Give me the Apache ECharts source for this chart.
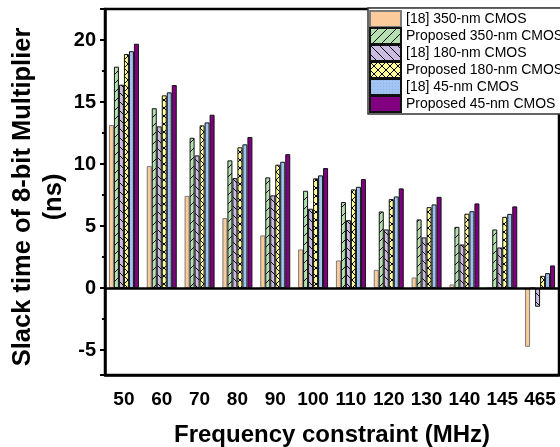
<!DOCTYPE html>
<html>
<head>
<meta charset="utf-8">
<script src="https://cdn.jsdelivr.net/npm/echarts@6/dist/echarts.min.js"></script>
<style>
  html, body { margin: 0; padding: 0; background: #fff; }
  #chart { width: 560px; height: 447px; }
</style>
</head>
<body>
<div id="chart"></div>
<script>
// Frequency constraints (MHz)
const categories = ['50', '60', '70', '80', '90', '100', '110', '120', '130', '140', '145', '465'];

// Slack time (ns) of the 8-bit multiplier
const ref350  = [13.15, 9.84, 7.44, 5.65, 4.25, 3.12, 2.23, 1.48, 0.86, 0.30, 0, -4.73];
const prop350 = [17.85, 14.50, 12.12, 10.30, 8.93, 7.85, 6.94, 6.18, 5.54, 4.94, 4.73, 0];
const ref180  = [16.40, 13.04, 10.70, 8.87, 7.48, 6.40, 5.48, 4.73, 4.09, 3.52, 3.28, -1.50];
const prop180 = [18.87, 15.54, 13.12, 11.35, 9.95, 8.85, 7.96, 7.18, 6.53, 6.00, 5.75, 0.99];
const ref45   = [19.10, 15.78, 13.36, 11.59, 10.19, 9.09, 8.17, 7.39, 6.75, 6.20, 5.99, 1.21];
const prop45  = [19.70, 16.37, 13.98, 12.18, 10.80, 9.68, 8.79, 8.04, 7.36, 6.83, 6.59, 1.83];

const seriesNames = [
  '[18] 350-nm CMOS',
  'Proposed 350-nm CMOS',
  '[18] 180-nm CMOS',
  'Proposed 180-nm CMOS',
  '[18] 45-nm CMOS',
  'Proposed 45-nm CMOS'
];

const FONT = "'Liberation Sans', Arial, sans-serif";

// Small repeating tiles used as hatched fills
function hatch(bg, kind, size) {
  const s = size || 9;
  const c = document.createElement('canvas');
  c.width = s; c.height = s;
  const g = c.getContext('2d');
  g.fillStyle = bg;
  g.fillRect(0, 0, s, s);
  g.strokeStyle = '#000';
  g.lineWidth = 1;
  g.beginPath();
  if (kind === 'fwd' || kind === 'cross') {
    for (const o of [-s, 0, s]) { g.moveTo(o, s); g.lineTo(o + s, 0); }
  }
  if (kind === 'back' || kind === 'cross') {
    for (const o of [-s, 0, s]) { g.moveTo(o, 0); g.lineTo(o + s, s); }
  }
  g.stroke();
  return { image: c, repeat: 'repeat' };
}

function dots(bg, dot) {
  const c = document.createElement('canvas');
  c.width = 3; c.height = 3;
  const g = c.getContext('2d');
  g.fillStyle = bg;
  g.fillRect(0, 0, 3, 3);
  g.fillStyle = dot;
  g.fillRect(1, 1, 1, 1);
  return { image: c, repeat: 'repeat' };
}

const fills = [
  '#FBCB9B',
  hatch('#B4E0B0', 'fwd'),
  hatch('#CBBBE0', 'back'),
  hatch('#FFFF99', 'cross', 8),
  dots('#A2C4F2', '#8DB2E6'),
  '#800080'
];
const borders = ['#7a7a7a', '#111', '#111', '#111', '#111', '#111'];
const values = [ref350, prop350, ref180, prop180, ref45, prop45];

const series = values.map((vals, i) => {
  const s = {
    name: seriesNames[i],
    type: 'bar',
    data: vals,
    barWidth: 5,
    barGap: '0%',
    itemStyle: { color: fills[i], borderColor: borders[i], borderWidth: 1 }
  };
  if (i === 0) {
    // zero reference line across the plot
    s.markLine = {
      silent: true,
      symbol: 'none',
      label: { show: false },
      lineStyle: { color: '#000', width: 2.5, type: 'solid' },
      data: [{ yAxis: 0 }]
    };
  }
  return s;
});

const chart = echarts.init(document.getElementById('chart'), null, { renderer: 'canvas' });
chart.setOption({
  animation: false,
  backgroundColor: '#fff',
  textStyle: { fontFamily: FONT },
  grid: {
    left: 105, right: 1, top: 9, bottom: 72,
    outerBoundsMode: 'none',
    containLabel: false,
    show: true, borderColor: '#000', borderWidth: 2.5
  },
  legend: {
    orient: 'vertical',
    left: 368, top: 8,
    icon: 'rect',
    itemWidth: 31, itemHeight: 16, itemGap: -1,
    padding: [2, 40, 1, 1],
    backgroundColor: '#fff',
    borderColor: '#333', borderWidth: 1.5,
    textStyle: { fontFamily: FONT, fontSize: 14, lineHeight: 16, color: '#000' },
    data: seriesNames
  },
  xAxis: [
    {
      type: 'category',
      position: 'bottom',
      data: categories,
      name: 'Frequency constraint (MHz)',
      nameLocation: 'middle',
      nameGap: 48,
      nameMoveOverlap: false,
      nameTextStyle: { fontFamily: FONT, fontSize: 24, fontWeight: 'bold', color: '#000' },
      axisLine: { onZero: false, lineStyle: { color: '#000', width: 2.5 } },
      axisTick: { alignWithLabel: true, length: 6, interval: 0, lineStyle: { color: '#000', width: 2.5 } },
      axisLabel: { interval: 0, margin: 15, fontFamily: FONT, fontSize: 19, fontWeight: 'bold', color: '#000' },
      splitLine: { show: false }
    },
    {
      type: 'category',
      position: 'bottom',
      data: categories,
      axisLine: { show: false, onZero: false },
      axisTick: { alignWithLabel: false, length: 3, interval: 0, lineStyle: { color: '#000', width: 2.5 } },
      axisLabel: { show: false },
      splitLine: { show: false }
    }
  ],
  yAxis: {
    type: 'value',
    min: -7,
    max: 22.5,
    splitNumber: 5,
    name: 'Slack time of 8-bit Multiplier\n(ns)',
    nameLocation: 'middle',
    nameRotate: 90,
    nameGap: 36,
    nameMoveOverlap: false,
    nameTextStyle: {
      fontFamily: FONT, fontSize: 25.5, fontWeight: 'bold', color: '#000', lineHeight: 31,
      padding: [0, 10, 0, 0]
    },
    axisLine: { show: true, onZero: false, lineStyle: { color: '#000', width: 2.5 } },
    axisTick: { show: true, length: 5, lineStyle: { color: '#000', width: 2 } },
    minorTick: { show: true, splitNumber: 2, length: 3, lineStyle: { color: '#000', width: 2 } },
    axisLabel: { margin: 9, showMinLabel: false, showMaxLabel: false, fontFamily: FONT, fontSize: 20, fontWeight: 'bold', color: '#000' },
    splitLine: { show: false },
    minorSplitLine: { show: false }
  },
  series: series
});
</script>
</body>
</html>
